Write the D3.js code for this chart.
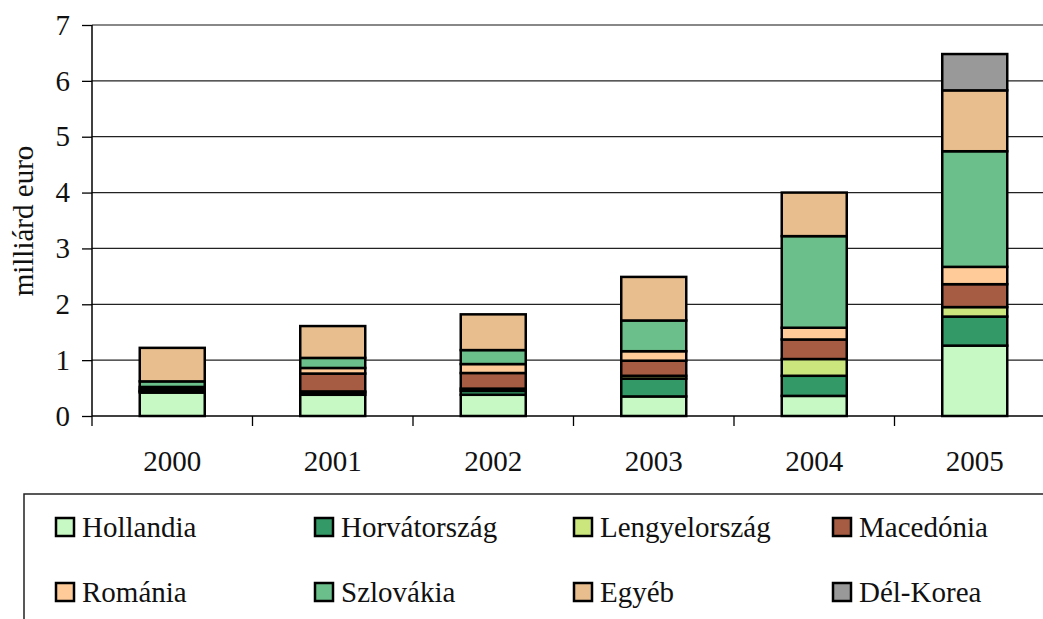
<!DOCTYPE html>
<html>
<head>
<meta charset="utf-8">
<script src="https://cdn.jsdelivr.net/npm/d3@7"></script>
<style>
  body { margin: 0; background: #fff; }
</style>
</head>
<body>
<svg class="chart" width="1043" height="619"></svg>
<script>
// évek és országok
var years = ["2000", "2001", "2002", "2003", "2004", "2005"];
var countries = ["Hollandia", "Horvátország", "Lengyelország", "Macedónia",
                 "Románia", "Szlovákia", "Egyéb", "Dél-Korea"];
var colors = ["#c6f9c4", "#339966", "#cce67e", "#a65c42",
              "#ffcc99", "#6bbf8a", "#e8be8e", "#999999"];

// milliárd euro
var hollandia     = [0.42, 0.38, 0.38, 0.35, 0.36, 1.26];
var horvatorszag  = [0.02, 0.04, 0.07, 0.32, 0.36, 0.52];
var lengyelorszag = [0.01, 0.02, 0.04, 0.05, 0.30, 0.17];
var macedonia     = [0.03, 0.32, 0.28, 0.27, 0.35, 0.41];
var romania       = [0.04, 0.10, 0.16, 0.17, 0.21, 0.31];
var szlovakia     = [0.10, 0.18, 0.25, 0.55, 1.64, 2.07];
var egyeb         = [0.60, 0.57, 0.64, 0.78, 0.78, 1.09];
var delKorea      = [0.00, 0.00, 0.00, 0.00, 0.00, 0.65];

var yTicks = [0, 1, 2, 3, 4, 5, 6, 7];

var FONT = "Liberation Serif";

function show() {
    'use strict';

    var series = [hollandia, horvatorszag, lengyelorszag, macedonia,
                  romania, szlovakia, egyeb, delKorea];

    var table = years.map(function(y, i) {
        var row = {year: y};
        countries.forEach(function(c, j) { row[c] = series[j][i]; });
        return row;
    });

    var margin = {top: 25, left: 92},
        width = 963,
        height = 391;

    var svg = d3.select(".chart").attr("font-family", FONT);
    var g = svg.append("g")
        .attr("transform", "translate(" + margin.left + "," + margin.top + ")");

    var x = d3.scaleBand().domain(years).range([0, width]).paddingInner(0.595).paddingOuter(0.2975);
    var xTick = d3.scaleBand().domain(years).range([0, width]);
    var y = d3.scaleLinear().domain([0, 7]).range([height, 0]);

    // rácsvonalak
    g.append("g")
        .selectAll("line")
        .data(yTicks.slice(1))
        .enter().append("line")
        .attr("x1", 0).attr("x2", width)
        .attr("y1", function(d) { return y(d); })
        .attr("y2", function(d) { return y(d); })
        .attr("stroke", function(d) { return d === 7 ? "#888" : "#222"; })
        .attr("stroke-width", function(d) { return d === 7 ? 2 : 1.3; });

    var stack = d3.stack().keys(countries);
    var layers = stack(table);

    g.append("g")
        .selectAll("g")
        .data(layers)
        .enter().append("g")
        .attr("fill", function(d, i) { return colors[i]; })
        .selectAll("rect")
        .data(function(d) { return d.filter(function(p) { return p[1] - p[0] > 0; }); })
        .enter().append("rect")
        .attr("x", function(d) { return x(d.data.year); })
        .attr("width", x.bandwidth())
        .attr("y", function(d) { return y(d[1]); })
        .attr("height", function(d) { return y(d[0]) - y(d[1]); })
        .attr("stroke", "#000")
        .attr("stroke-width", 2.5);

    // y tengely
    var yAxis = g.append("g")
        .call(d3.axisLeft(y).tickValues(yTicks).tickSize(10).tickPadding(12).tickFormat(d3.format("d")))
        .attr("font-family", FONT);
    yAxis.select(".domain").attr("stroke", "#000").attr("stroke-width", 1.5).attr("d", "M0," + height + "V0");
    yAxis.selectAll(".tick line").attr("stroke", "#000").attr("stroke-width", 1.3);
    yAxis.selectAll("text").attr("font-size", 29).attr("fill", "#111").attr("font-family", FONT);

    // x tengely
    var xAxis = g.append("g").attr("transform", "translate(0," + height + ")");
    xAxis.append("line").attr("x1", 0).attr("x2", width).attr("stroke", "#000").attr("stroke-width", 1.5);
    xAxis.selectAll(".tk")
        .data(years.concat(["end"]))
        .enter().append("line")
        .attr("x1", function(d, i) { return i * xTick.bandwidth(); })
        .attr("x2", function(d, i) { return i * xTick.bandwidth(); })
        .attr("y1", 0).attr("y2", 10)
        .attr("stroke", "#000").attr("stroke-width", 1.3);
    xAxis.selectAll("text")
        .data(years)
        .enter().append("text")
        .attr("x", function(d) { return xTick(d) + xTick.bandwidth() / 2; })
        .attr("y", 55)
        .attr("text-anchor", "middle")
        .attr("font-size", 29)
        .attr("fill", "#111")
        .attr("font-family", FONT)
        .text(function(d) { return d; });

    svg.append("text")
        .attr("transform", "translate(33,221) rotate(-90)")
        .attr("text-anchor", "middle")
        .attr("font-size", 29)
        .attr("fill", "#111")
        .attr("font-family", FONT)
        .text("milliárd euro");

    // jelmagyarázat
    var legend = svg.append("g");
    legend.append("rect")
        .attr("x", 24).attr("y", 494)
        .attr("width", 1100).attr("height", 200)
        .attr("fill", "none").attr("stroke", "#222").attr("stroke-width", 1.5);

    var item = legend.selectAll(".item")
        .data(countries)
        .enter().append("g")
        .attr("transform", function(d, i) {
            return "translate(" + (55 + (i % 4) * 259) + "," + (527 + Math.floor(i / 4) * 65) + ")";
        });
    item.append("rect")
        .attr("x", 1).attr("y", -9)
        .attr("width", 18).attr("height", 18)
        .attr("fill", function(d, i) { return colors[i]; })
        .attr("stroke", "#000").attr("stroke-width", 2.5);
    item.append("text")
        .attr("x", 27).attr("y", 10)
        .attr("font-size", 29)
        .attr("fill", "#111")
        .attr("font-family", FONT)
        .text(function(d) { return d; });
}
show();
</script>
</body>
</html>
